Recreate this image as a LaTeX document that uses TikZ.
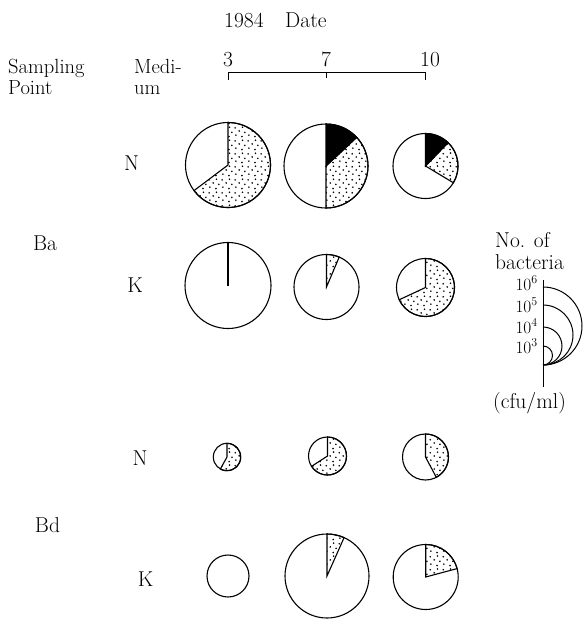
\documentclass[tikz,border=0pt]{standalone}
\usetikzlibrary{positioning,patterns}
% sparse stipple for the second fraction
\pgfdeclarepatternformonly{stipple}{\pgfqpoint{0pt}{0pt}}{\pgfqpoint{13pt}{13pt}}{\pgfqpoint{13pt}{13pt}}{%
  \pgfpathcircle{\pgfqpoint{2pt}{3pt}}{0.95pt}
  \pgfpathcircle{\pgfqpoint{8.5pt}{1.5pt}}{0.95pt}
  \pgfpathcircle{\pgfqpoint{5.5pt}{7.5pt}}{0.95pt}
  \pgfpathcircle{\pgfqpoint{11.5pt}{6pt}}{0.95pt}
  \pgfpathcircle{\pgfqpoint{1.3pt}{10.8pt}}{0.95pt}
  \pgfpathcircle{\pgfqpoint{9pt}{11.5pt}}{0.95pt}
  \pgfusepath{fill}}
\tikzset{
  txt/.style={font=\fontsize{21.5}{17}\selectfont, inner sep=0pt},
  headtxt/.style={font=\fontsize{20.5}{17}\selectfont, inner sep=0pt, anchor=base west},
  exptxt/.style={font=\fontsize{17}{17}\selectfont, inner sep=0pt, anchor=east},
  pie/.style={circle, draw, line width=1.1pt, inner sep=0pt, minimum size={2*#1pt}},
  dotpart/.style={pattern=stipple, draw, line width=1.1pt},
  blackpart/.style={fill=black, draw, line width=1.1pt},
}
% node, radius, from angle, to angle, style
\newcommand{\piepart}[5]{%
  \path[#5] (#1.center) -- ++(#3:#2pt) arc[start angle=#3, end angle=#4, radius=#2pt] -- cycle;}

\begin{document}
\begin{tikzpicture}[x=1pt, y=1pt]
  \useasboundingbox (0,0) rectangle (582,-619);

  % header
  \node[txt, anchor=base west] (year) at (224,-27) {1984};
  \node[txt, anchor=base west] (date) at (285,-27) {Date};
  \node[headtxt] (sampling) at (8,-73) {Sampling};
  \node[headtxt] (point) at (8,-94) {Point};
  \node[headtxt] (medi) at (134,-73) {Medi-};
  \node[headtxt] (um) at (134,-94) {um};
  \coordinate (t3) at (228,-72);
  \coordinate (t7) at (326,-72);
  \coordinate (t10) at (425,-72);
  \node[txt, anchor=base] (d3) at (228,-66) {3};
  \node[txt, anchor=base] (d7) at (326,-66) {7};
  \node[txt, anchor=base] (d10) at (430,-66) {10};
  \draw[line width=1pt] ([yshift=-8pt]t3) -- (t3) -- (t10) -- ([yshift=-8pt]t10);
  \draw[line width=1pt] (t7) -- ([yshift=-6pt]t7);

  % row labels
  \node[txt] (ba) at (45,-243) {Ba};
  \node[txt] (bd) at (47.5,-525) {Bd};
  \node[txt] (banl) at (131.5,-163) {N};
  \node[txt] (bakl) at (135,-285) {K};
  \node[txt] (bdnl) at (140,-458) {N};
  \node[txt] (bdkl) at (145.5,-579) {K};

  % Ba, medium N
  \node[pie=42.5] (baN3) at (228,-165) {};
  \node[pie=42] (baN7) at (326,-166) {};
  \node[pie=32.5] (baN10) at (425.5,-166) {};
  \piepart{baN3}{42.5}{-143}{90}{dotpart}
  \piepart{baN7}{42}{-90}{43}{dotpart}
  \piepart{baN7}{42}{43}{90}{blackpart}
  \piepart{baN10}{32.5}{-31}{46}{dotpart}
  \piepart{baN10}{32.5}{46}{90}{blackpart}

  % Ba, medium K
  \node[pie=43] (baK3) at (228,-285.5) {};
  \node[pie=32.5] (baK7) at (326.5,-287) {};
  \node[pie=29] (baK10) at (425.5,-287.5) {};
  \draw[line width=1.1pt] (baK3.center) -- (baK3.north);
  \piepart{baK7}{32.5}{67}{90}{dotpart}
  \piepart{baK10}{29}{-155}{90}{dotpart}

  % Bd, medium N
  \node[pie=13.7] (bdN3) at (227,-457) {};
  \node[pie=19] (bdN7) at (327.5,-456) {};
  \node[pie=23] (bdN10) at (425.5,-457) {};
  \piepart{bdN3}{13.7}{-119}{90}{dotpart}
  \piepart{bdN7}{19}{-147}{90}{dotpart}
  \piepart{bdN10}{23}{-62}{90}{dotpart}

  % Bd, medium K
  \node[pie=21] (bdK3) at (228,-576) {};
  \node[pie=42] (bdK7) at (327,-576) {};
  \node[pie=32.5] (bdK10) at (425.7,-577) {};
  \piepart{bdK7}{42}{66}{90}{dotpart}
  \piepart{bdK10}{32.5}{15}{90}{dotpart}

  % size scale
  \node[txt, anchor=north west, align=left, font=\fontsize{21.5}{22}\selectfont] (scaletitle) at (495,-232) {No. of\\bacteria};
  \coordinate (scaletop) at (543,-280);
  \coordinate (scalebase) at (543,-365);
  \coordinate (scaleend) at (543,-387);
  \draw[line width=1pt] (scaletop) -- (scaleend);
  \foreach \r/\e/\yl in {39/6/283, 30/5/305, 19/4/326, 9.5/3/346} {
    \draw[line width=1pt] (scalebase) arc[start angle=-90, end angle=90, radius=\r pt];
    \node[exptxt] (exp\e) at (538,-\yl) {$10^{\e}$};
  }
  \node[txt, anchor=west] (unit) at (493,-403) {(cfu/ml)};
\end{tikzpicture}
\end{document}
